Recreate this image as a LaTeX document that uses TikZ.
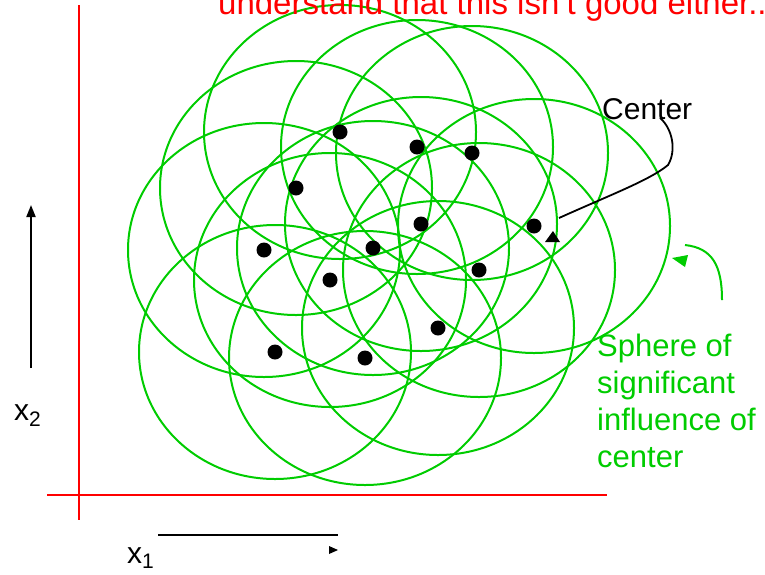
\documentclass[tikz,border=0pt]{standalone}
\usepackage{fontspec}
\setmainfont{Liberation Sans}
\usetikzlibrary{arrows.meta,calc}
\definecolor{hull}{RGB}{0,204,0}
\definecolor{axisred}{RGB}{255,0,0}
\tikzset{
  sphere/.style={
    draw=hull,
    line width=2pt
  },
  datum/.style={
    circle,
    fill=black,
    minimum size=15pt,
    inner sep=0pt
  },
  axis/.style={
    draw=axisred,
    line width=2.4pt
  },
  dir/.style={
    -{Triangle[length=12pt,width=9pt]},
    line width=2pt,
    draw=black
  },
  lead/.style={
    draw=black,
    line width=1.8pt
  },
  lbl/.style={
    inner sep=0pt,
    text=black,
    font=\fontsize{30}{36}\selectfont
  },
  warn/.style={
    inner sep=0pt,
    text=axisred,
    font=\fontsize{33}{40}\selectfont
  },
  note/.style={
    inner sep=0pt,
    text=hull,
    align=left,
    font=\fontsize{31}{37}\selectfont
  }
}

\begin{document}
\begin{tikzpicture}[x=1pt,y=-1pt]
  \useasboundingbox (0,0) rectangle (765,574);

  % axes
  \coordinate (vtop) at (79,5);
  \coordinate (vbot) at (79,520);
  \coordinate (hleft) at (47,495);
  \coordinate (hright) at (607,495);
  \draw[axis] (vtop) -- (vbot);
  \draw[axis] (hleft) -- (hright);

  % spheres of influence, one per center
  \foreach \cx/\cy in {340/132,417/147,472/153,296/188,421/224,534/226,264/250,
                       373/248,479/270,330/280,438/328,275/352,365/358}{
    \draw[sphere] (\cx,\cy) ellipse [x radius=136, y radius=127];
  }
  \foreach \cx/\cy [count=\i] in {340/132,417/147,472/153,296/188,421/224,534/226,
                                  264/250,373/248,479/270,330/280,438/328,275/352,365/358}{
    \node[datum] (d\i) at (\cx,\cy) {};
  }

  % labels
  \node[warn,anchor=base west] (warn) at (218,14) {understand that this isn't good either..};
  \node[lbl,anchor=base west] (ctr) at (602,119) {Center};
  \node[note,anchor=north west] (sph) at (597,334) {Sphere of\\significant\\influence of\\center};
  \node[lbl,anchor=base west] (x2lbl) at (14,420) {x\textsubscript{2}};
  \node[lbl,anchor=base west] (x1lbl) at (127,563) {x\textsubscript{1}};

  % pointer from Center
  \coordinate (ctrTip) at (559,218);
  \draw[lead] ($(ctr.base west)+(58,-1)$) .. controls (672,128) and (677,150) .. (668,165)
    .. controls (650,180) and (610,195) .. (ctrTip);
  \fill[black] (545,242) -- (560,242) -- (553,231) -- cycle;

  % pointer from sphere note
  \coordinate (gTail) at (722,300);
  \coordinate (gHead) at (685,245);
  \draw[sphere] (gTail) .. controls (722,265) and (712,248) .. (gHead);
  \fill[hull] (672,258) -- (688,255) -- (685,267) -- cycle;

  % axis directions
  \coordinate (x2from) at (31,368);
  \coordinate (x2to) at (31,205);
  \draw[dir] (x2from) -- (x2to);
  \coordinate (x1from) at (158,535);
  \coordinate (x1to) at (338,535);
  \draw[line width=2pt] (x1from) -- (x1to);
  \fill[black] (329,546) -- (338,550) -- (329,554) -- cycle;
\end{tikzpicture}
\end{document}
